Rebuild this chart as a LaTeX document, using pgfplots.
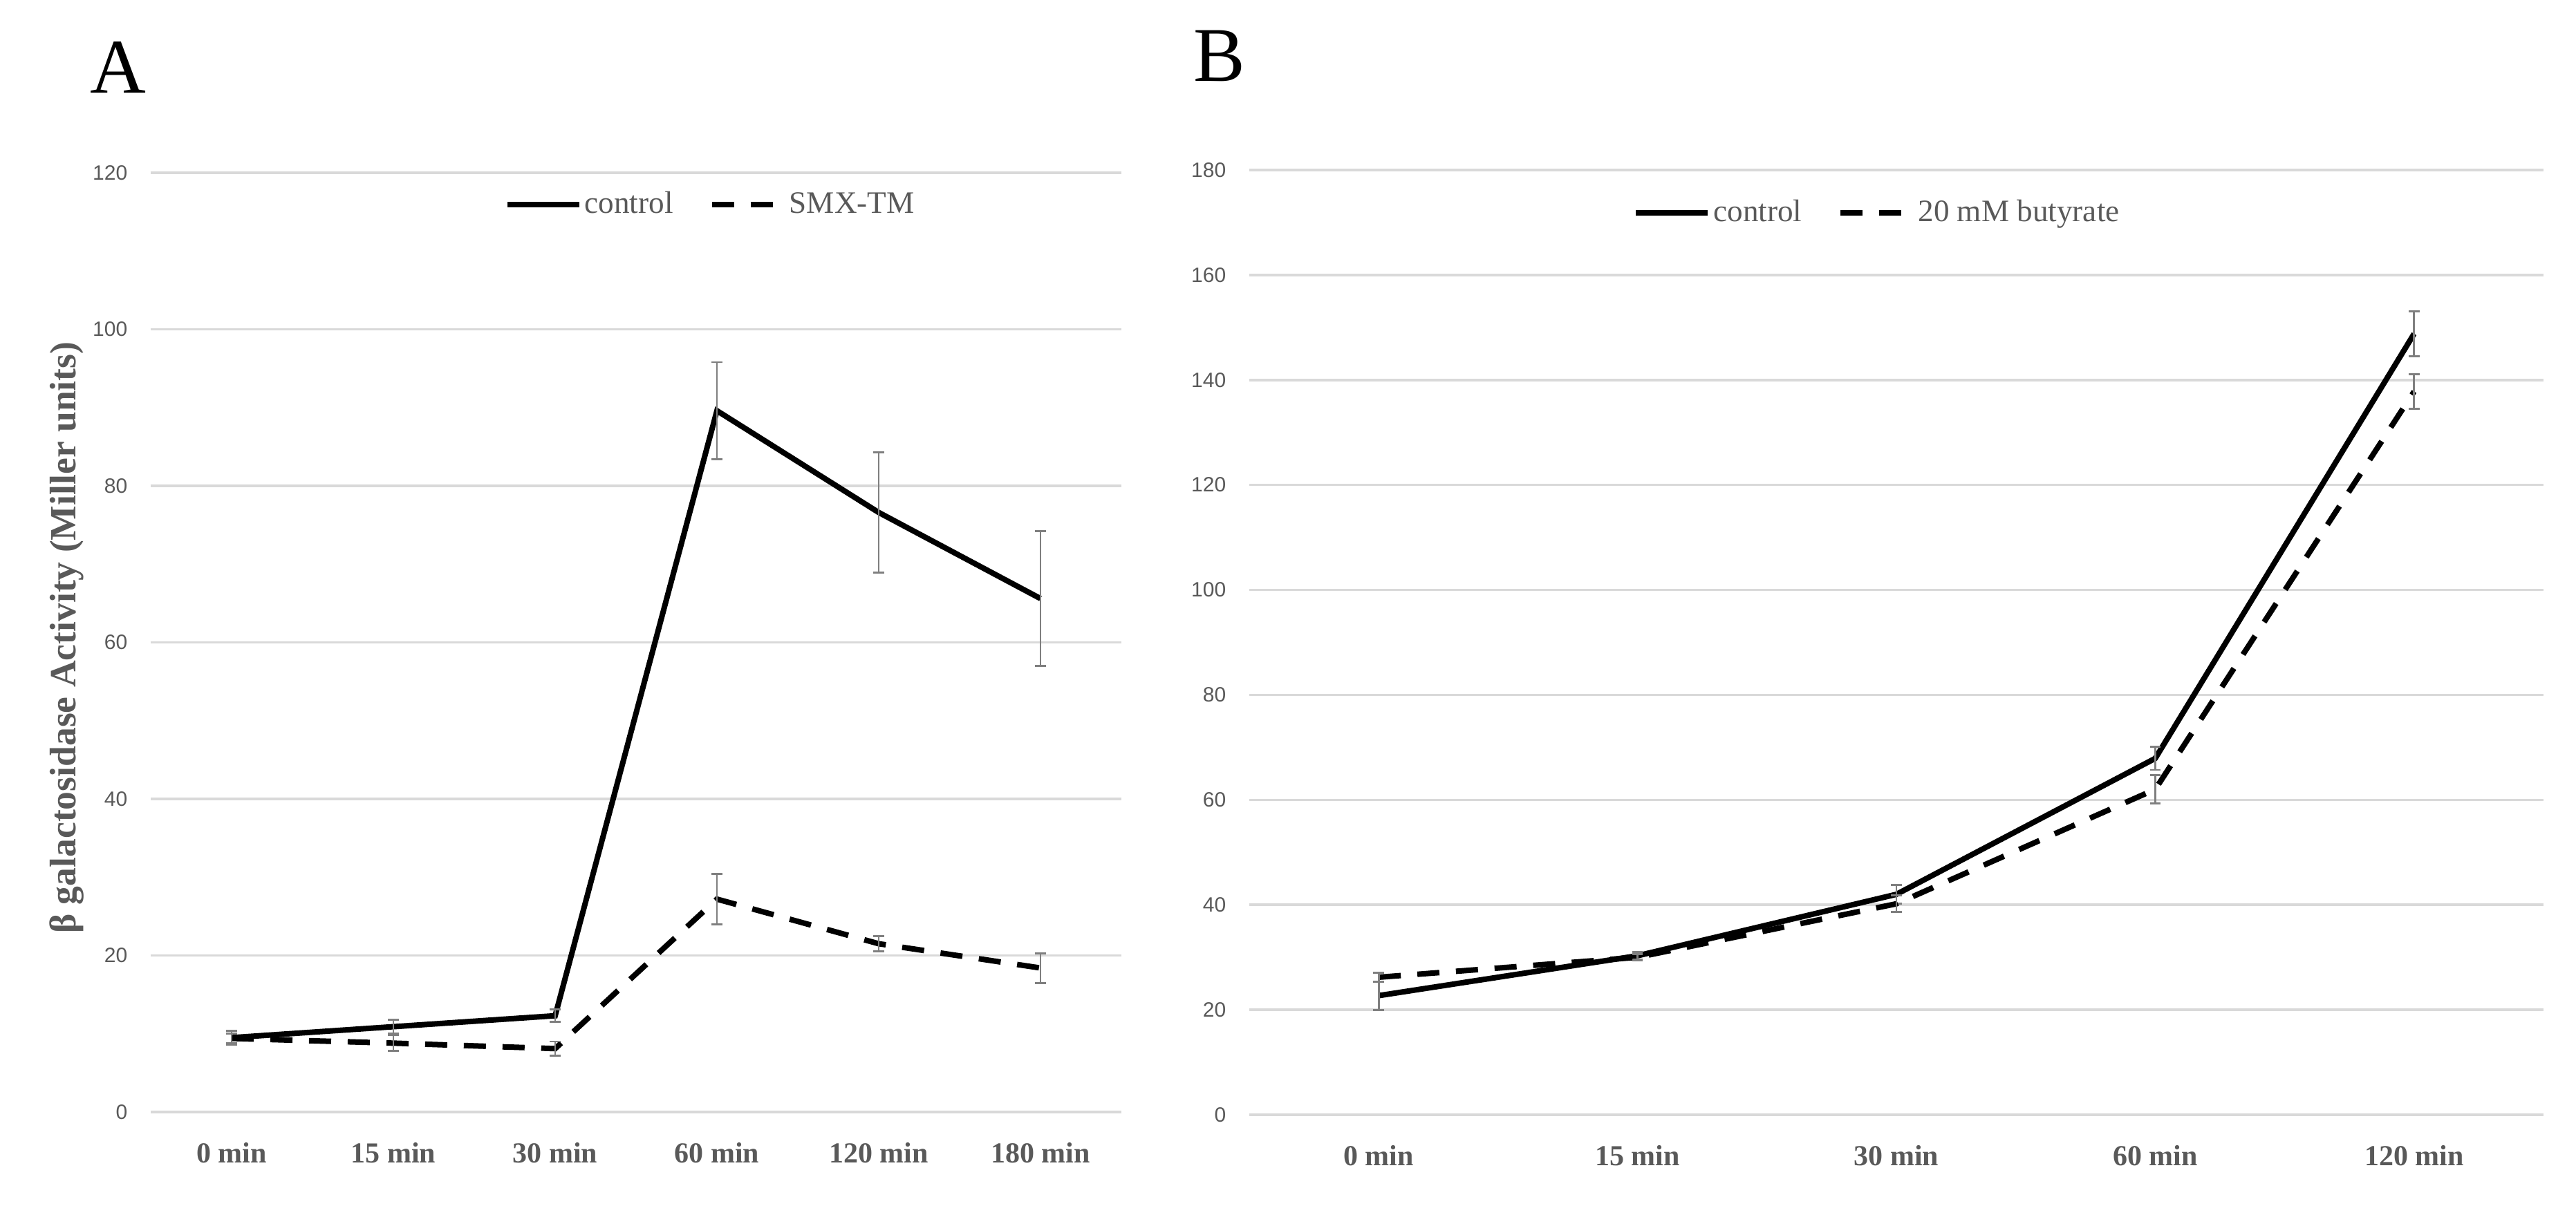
\documentclass[border=0pt]{standalone}
\usepackage{pgfplots}
\pgfplotsset{compat=1.18}
\usepackage{fontspec}
\setmainfont{Liberation Serif}
\newfontfamily\ticksans{Liberation Sans}

\definecolor{txtgray}{HTML}{595959}
\definecolor{gridgray}{HTML}{D9D9D9}
\definecolor{errgray}{HTML}{7F7F7F}

\pgfplotsset{
  excel/.style={
    scale only axis,
    clip=false,
    axis line style={draw=none},
    major tick length=0pt,
    ymajorgrids,
    grid style={gridgray, line width=0.9pt},
    tick label style={text=txtgray},
    yticklabel style={font=\ticksans\fontsize{7.5}{9}\selectfont, inner sep=0pt, xshift=-8.25pt},
    xticklabel style={font=\bfseries\fontsize{10.5}{12}\selectfont, inner sep=0pt, yshift=-11pt},
    /pgf/number format/assume math mode=true,
    legend columns=2,
    legend style={draw=none, fill=none, text=txtgray,
      font=\fontsize{11.3}{13}\selectfont,
      nodes={inner sep=1pt},
      /tikz/every even column/.append style={column sep=12pt}},
    legend image code/.code={\draw[#1] (0pt,0pt) -- (26pt,0pt);},
  },
  ctrl/.style={black, line width=2pt, mark=none},
  trt/.style={black, line width=2pt, dash pattern=on 8pt off 6pt, mark=none},
  ebar/.style={
    /pgfplots/error bars/y dir=both,
    /pgfplots/error bars/y explicit,
    /pgfplots/error bars/error bar style={errgray, line width=0.7pt, solid},
    /pgfplots/error bars/error mark options={rotate=90, mark size=1.95pt, errgray, line width=0.7pt, solid},
  },
}

\begin{document}
\begin{tikzpicture}
\useasboundingbox (0pt,0pt) rectangle (931.5pt,436.25pt);

% panel A
\begin{axis}[excel,
    at={(54.5pt,34pt)}, anchor=south west,
    width=351pt, height=339.75pt,
    xmin=-0.5, xmax=5.5, ymin=0, ymax=120,
    xtick={0,...,5},
    xticklabels={0 min,15 min,30 min,60 min,120 min,180 min},
    ytick={0,20,...,120},
    ylabel={β galactosidase Activity (Miller units)},
    every axis y label/.style={at={(axis description cs:-0.0862,0.505)}, rotate=90, anchor=center,
      font=\bfseries\fontsize{13.4}{15}\selectfont, text=txtgray},
    legend style={at={(0.577,0.966)}, anchor=center},
  ]
  \addplot[ctrl, ebar] table[x=x, y=y, y error=e] {
x y e
0 9.5 0.9
1 10.9 0.9
2 12.3 0.8
3 89.6 6.2
4 76.6 7.7
5 65.6 8.6
  };
  \addlegendentry{control}
  \addplot[trt, ebar] table[x=x, y=y, y error=e] {
x y e
0 9.4 0.6
1 8.8 1.0
2 8.1 0.9
3 27.2 3.2
4 21.5 1.0
5 18.4 1.9
  };
  \addlegendentry{SMX-TM}
\end{axis}

% panel B
\begin{axis}[excel,
    at={(451.75pt,33pt)}, anchor=south west,
    width=468pt, height=341.75pt,
    xmin=-0.5, xmax=4.5, ymin=0, ymax=180,
    xtick={0,...,4},
    xticklabels={0 min,15 min,30 min,60 min,120 min},
    ytick={0,20,...,180},
    legend style={at={(0.4856,0.955)}, anchor=center},
  ]
  \addplot[ctrl, ebar] table[x=x, y=y, y error=e] {
x y e
0 22.7 2.7
1 30.3 0.7
2 42.0 1.8
3 67.9 2.2
4 148.8 4.3
  };
  \addlegendentry{control}
  \addplot[trt, ebar] table[x=x, y=y, y error=e] {
x y e
0 26.2 0.9
1 30.0 0.6
2 40.2 1.6
3 62.0 2.7
4 137.8 3.3
  };
  \addlegendentry{20 mM butyrate}
\end{axis}

\node[anchor=base west, inner sep=0pt, font=\fontsize{28}{30}\selectfont] at (32.5pt,402.5pt) {A};
\node[anchor=base west, inner sep=0pt, font=\fontsize{28}{30}\selectfont] at (431.5pt,406.75pt) {B};
\end{tikzpicture}
\end{document}
